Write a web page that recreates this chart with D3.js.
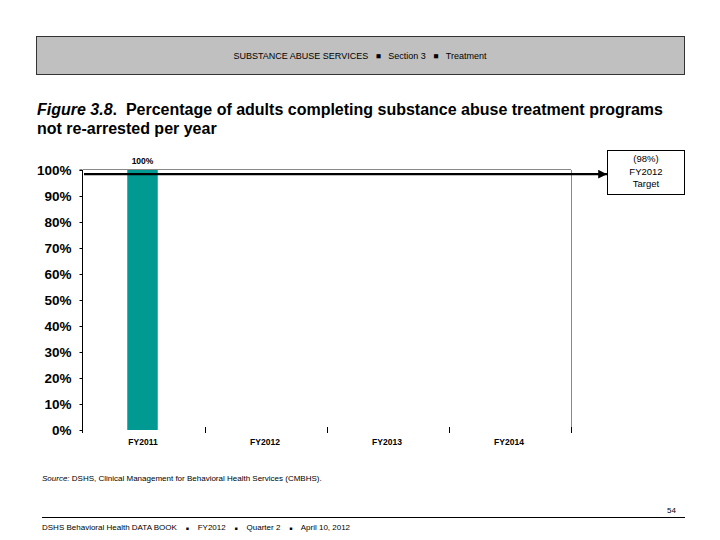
<!DOCTYPE html>
<html>
<head>
<meta charset="utf-8">
<script src="https://cdn.jsdelivr.net/npm/d3@7"></script>
<style>
  body { margin: 0; background: #fff; }
  text { font-family: "Liberation Sans", Arial, sans-serif; white-space: pre; }
</style>
</head>
<body>
<div id="chart"></div>
<script>
const years = ['FY2011', 'FY2012', 'FY2013', 'FY2014'];
const values = [100, null, null, null];
const targetValue = 98;
const targetLines = ['(98%)', 'FY2012', 'Target'];
const yTicks = [0, 10, 20, 30, 40, 50, 60, 70, 80, 90, 100];

const width = 720, height = 540;
const svg = d3.select('#chart').append('svg')
  .attr('width', width)
  .attr('height', height);

// header band
svg.append('rect')
  .attr('x', 36.5).attr('y', 36.5)
  .attr('width', 648).attr('height', 38)
  .attr('fill', '#c0c0c0').attr('stroke', '#333');

const hdr = svg.append('text')
  .attr('x', 360).attr('y', 59)
  .attr('text-anchor', 'middle')
  .attr('font-size', 9);
hdr.append('tspan').text('SUBSTANCE ABUSE SERVICES   ');
hdr.append('tspan').text('\u25A0').attr('font-size', 8.5);
hdr.append('tspan').text('   Section 3   ');
hdr.append('tspan').text('\u25A0').attr('font-size', 8.5);
hdr.append('tspan').text('   Treatment');

// title
const t1 = svg.append('text').attr('x', 37).attr('y', 115)
  .attr('font-size', 16).attr('font-weight', 'bold');
t1.append('tspan').attr('font-style', 'italic').text('Figure 3.8');
t1.append('tspan').text('.  Percentage of adults completing substance abuse treatment programs');
svg.append('text').attr('x', 37).attr('y', 134)
  .attr('font-size', 16).attr('font-weight', 'bold')
  .text('not re-arrested per year');

// chart
const x0 = 83, x1 = 571, yTop = 170, yBot = 430;
const x = d3.scaleBand().domain(years).range([x0, x1]).paddingInner(0).paddingOuter(0);
const y = d3.scaleLinear().domain([0, 100]).range([yBot, yTop]);

// plot frame top + right (gray)
svg.append('line')
  .attr('x1', x0).attr('x2', x1)
  .attr('y1', y(100) - 0.5).attr('y2', y(100) - 0.5)
  .attr('stroke', '#888');
svg.append('line')
  .attr('x1', x1 + 0.5).attr('x2', x1 + 0.5)
  .attr('y1', y(100)).attr('y2', yBot)
  .attr('stroke', '#888');

// bars
const barW = x.bandwidth() * 0.25;
const barData = years.map((d, i) => ({ year: d, v: values[i] })).filter(d => d.v != null);
svg.selectAll('rect.bar')
  .data(barData)
  .join('rect')
  .attr('class', 'bar')
  .attr('x', d => x(d.year) + x.bandwidth() / 2 - barW / 2 - 1.5)
  .attr('width', barW)
  .attr('y', d => y(d.v))
  .attr('height', d => y(0) - y(d.v))
  .attr('fill', '#009a93');

svg.selectAll('text.barlab')
  .data(barData)
  .join('text')
  .attr('class', 'barlab')
  .attr('x', d => x(d.year) + x.bandwidth() / 2 - 1.5)
  .attr('y', d => y(d.v) - 6)
  .attr('text-anchor', 'middle')
  .attr('font-size', 8.5).attr('font-weight', 'bold')
  .text(d => d.v + '%');

// y axis
const yAxis = svg.append('g')
  .attr('transform', `translate(${x0 - 0.5},0)`)
  .call(d3.axisLeft(y).tickValues(yTicks).tickSize(3).tickFormat(d => d + '%'));
yAxis.select('.domain').attr('d', `M-3,${yTop}H0V${yBot + 3}`).attr('stroke', '#000');
yAxis.selectAll('.tick line').attr('stroke', '#000');
yAxis.selectAll('.tick text')
  .attr('x', -11)
  .attr('font-size', 13.5).attr('font-weight', 'bold')
  .attr('font-family', '"Liberation Sans", Arial, sans-serif')
  .attr('fill', '#000');

// x axis ticks (no baseline)
const xTickPos = years.map(d => x(d) + x.bandwidth());
svg.selectAll('line.xtick')
  .data(xTickPos)
  .join('line')
  .attr('class', 'xtick')
  .attr('x1', d => Math.round(d) + 0.5).attr('x2', d => Math.round(d) + 0.5)
  .attr('y1', yBot - 3).attr('y2', yBot + 3)
  .attr('stroke', '#000');
svg.selectAll('text.xlab')
  .data(years)
  .join('text')
  .attr('class', 'xlab')
  .attr('x', d => x(d) + x.bandwidth() / 2 - 1)
  .attr('y', yBot + 15)
  .attr('text-anchor', 'middle')
  .attr('font-size', 8.5).attr('font-weight', 'bold')
  .text(d => d);

// target line with arrow
svg.append('defs').append('marker')
  .attr('id', 'arr')
  .attr('viewBox', '0 0 10 10')
  .attr('refX', 10).attr('refY', 5)
  .attr('markerWidth', 4).attr('markerHeight', 4)
  .attr('orient', 'auto')
  .append('path').attr('d', 'M0,0L10,5L0,10Z').attr('fill', '#000');
svg.append('line')
  .attr('x1', x0 + 1).attr('x2', 607)
  .attr('y1', y(targetValue) - 1).attr('y2', y(targetValue) - 1)
  .attr('stroke', '#000').attr('stroke-width', 2.2)
  .attr('marker-end', 'url(#arr)');

// target box
svg.append('rect')
  .attr('x', 607.5).attr('y', 150.5)
  .attr('width', 77).attr('height', 44)
  .attr('fill', '#fff').attr('stroke', '#000');
svg.selectAll('text.tgt')
  .data(targetLines)
  .join('text')
  .attr('class', 'tgt')
  .attr('x', 646).attr('y', (d, i) => 162 + i * 12.5)
  .attr('text-anchor', 'middle')
  .attr('font-size', 9.5)
  .text(d => d);

// source
const src = svg.append('text').attr('x', 42).attr('y', 481).attr('font-size', 8);
src.append('tspan').attr('font-style', 'italic').text('Source:');
src.append('tspan').text(' DSHS, Clinical Management for Behavioral Health Services (CMBHS).');

// footer
svg.append('text').attr('x', 676).attr('y', 513)
  .attr('text-anchor', 'end').attr('font-size', 8).text('54');
svg.append('line')
  .attr('x1', 42).attr('x2', 685)
  .attr('y1', 517.5).attr('y2', 517.5)
  .attr('stroke', '#000');
const ft = svg.append('text').attr('x', 42).attr('y', 530).attr('font-size', 8);
ft.append('tspan').text('DSHS Behavioral Health DATA BOOK    ');
ft.append('tspan').attr('font-size', 5).text('\u25A0');
ft.append('tspan').text('    FY2012    ');
ft.append('tspan').attr('font-size', 5).text('\u25A0');
ft.append('tspan').text('    Quarter 2    ');
ft.append('tspan').attr('font-size', 5).text('\u25A0');
ft.append('tspan').text('    April 10, 2012');
</script>
</body>
</html>
